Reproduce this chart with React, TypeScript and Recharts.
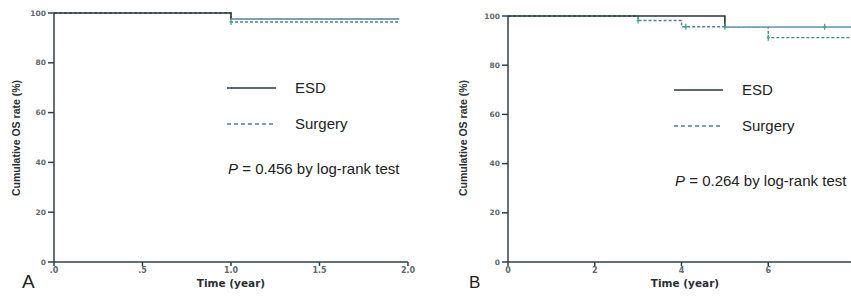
import React from 'react';
import { ComposedChart, Line, Scatter, XAxis, YAxis, Legend } from 'recharts';

// Panel A data
const timesA = [0, 1, 1.95];
const esdA = [100, 97.6, 97.6];
const esdTailA = [null, 97.6, 97.6];
const surgeryA = [100, 96.4, 96.4];
const censorA = [{ t: 1, v: 96.4 }];
const xTicksA = [0, 0.5, 1, 1.5, 2];

// Panel B data
const timesB = [0, 3, 4, 5, 6, 8];
const esdB = [100, 100, 100, 95.6, 95.6, 95.6];
const esdTailB = [null, null, null, 95.6, 95.6, 95.6];
const surgeryB = [100, 98.2, 95.6, 95.6, 91.2, 91.2];
const censorB = [
  { t: 3, v: 98.2 },
  { t: 4.1, v: 95.6 },
  { t: 5, v: 95.6 },
  { t: 6, v: 91.2 },
  { t: 7.3, v: 95.6 },
];
const xTicksB = [0, 2, 4, 6];

const yTicks = [0, 20, 40, 60, 80, 100];

const pTextA = '0.456';
const pTextB = '0.264';

const build = (times: number[], esd: any[], tail: any[], surg: any[]) =>
  times.map((t, i) => ({ t, esd: esd[i], esdTail: tail[i], surgery: surg[i] }));

const dataA = build(timesA, esdA, esdTailA, surgeryA);
const dataB = build(timesB, esdB, esdTailB, surgeryB);

const AXIS = '#2f4047';
const DARK = '#2a363b';
const TAIL = '#86b3d1';
const DASH = '#4f7f8e';
const CENS = '#3aa58a';
const SANS = '"Liberation Sans", Arial, sans-serif';

const CensorMark = (props: any) => {
  const { cx, cy } = props;
  if (cx == null || cy == null) return null;
  return <path d={`M${cx},${cy - 3}V${cy + 3}M${cx - 1.5},${cy}H${cx + 1.5}`} stroke={CENS} strokeWidth={1.3} fill="none" />;
};

const LegendBox = () => (
  <svg width={140} height={60} style={{ overflow: 'visible', display: 'block' }}>
    <line x1={0} y1={10} x2={49} y2={10} stroke={DARK} strokeWidth={1.6} />
    <text x={68} y={15} fontSize={15} fontFamily={SANS} fill="#222">ESD</text>
    <line x1={0} y1={46} x2={48} y2={46} stroke={DASH} strokeWidth={1.5} strokeDasharray="4 3" />
    <text x={68} y={51} fontSize={15} fontFamily={SANS} fill="#222">Surgery</text>
  </svg>
);

const tickStyle = { fontSize: 7.5, fill: '#62686b', fontFamily: '"DejaVu Sans", sans-serif', fontWeight: 'bold' as const };

type PanelProps = {
  data: any[];
  censor: any[];
  xTicks: number[];
  xDomain: [number, number];
  fmt: (v: number) => string;
  width: number;
  top: number;
  right: number;
  yAxisWidth: number;
  legendLeft: number;
  legendTop: number;
};

const Panel = (p: PanelProps) => (
  <ComposedChart
    width={p.width}
    height={297}
    data={p.data}
    margin={{ top: p.top, right: p.right, bottom: 0, left: 0 }}
  >
    <XAxis
      dataKey="t"
      type="number"
      domain={p.xDomain}
      ticks={p.xTicks}
      tickFormatter={p.fmt}
      allowDataOverflow
      stroke={AXIS}
      strokeWidth={1.5}
      tickSize={4}
      tick={{ ...tickStyle, fontSize: 8 }}
      height={35}
      tickMargin={1}
    />
    <YAxis
      type="number"
      domain={[0, 100]}
      ticks={yTicks}
      stroke={AXIS}
      strokeWidth={1.5}
      tickSize={6}
      tickMargin={2}
      tick={tickStyle}
      width={p.yAxisWidth}
    />
    <Line type="stepAfter" dataKey="surgery" stroke={DASH} strokeWidth={1.4} strokeDasharray="3 2" dot={false} isAnimationActive={false} />
    <Line type="stepAfter" dataKey="esd" stroke={DARK} strokeWidth={1.6} dot={false} isAnimationActive={false} />
    <Line type="stepAfter" dataKey="esdTail" stroke={TAIL} strokeWidth={1.6} dot={false} isAnimationActive={false} />
    <Scatter data={p.censor} dataKey="v" shape={<CensorMark />} isAnimationActive={false} />
    <Legend
      content={<LegendBox />}
      wrapperStyle={{ position: 'absolute', left: p.legendLeft, top: p.legendTop, width: 0, height: 0, bottom: 'auto', overflow: 'visible' }}
    />
  </ComposedChart>
);

const yLabelStyle: React.CSSProperties = {
  position: 'absolute',
  fontFamily: '"Liberation Sans Narrow", "Liberation Sans", sans-serif',
  fontWeight: 'bold',
  fontSize: 10.5,
  color: '#2a2f33',
  whiteSpace: 'nowrap',
  transform: 'translate(-50%, -50%) rotate(-90deg)',
};

const xLabelStyle: React.CSSProperties = {
  position: 'absolute',
  fontFamily: '"DejaVu Sans", sans-serif',
  fontWeight: 'bold',
  fontSize: 10.5,
  color: '#2a2f33',
  whiteSpace: 'nowrap',
  transform: 'translate(-50%, -50%)',
};

const pStyle: React.CSSProperties = {
  position: 'absolute',
  fontFamily: SANS,
  fontSize: 15,
  color: '#222',
  whiteSpace: 'nowrap',
  lineHeight: '15px',
};

export default function App() {
  return (
    <div style={{ position: 'absolute', left: 0, top: 0, width: 851, height: 297, overflow: 'hidden', background: '#fff' }}>
      <div style={{ position: 'absolute', left: 0, top: 0 }}>
        <Panel
          data={dataA}
          censor={censorA}
          xTicks={xTicksA}
          xDomain={[0, 2]}
          fmt={(v) => v.toFixed(1).replace(/^0/, '')}
          width={425}
          top={13}
          right={17}
          yAxisWidth={54}
          legendLeft={227}
          legendTop={78}
        />
      </div>
      <div style={{ position: 'absolute', left: 425, top: 0 }}>
        <Panel
          data={dataB}
          censor={censorB}
          xTicks={xTicksB}
          xDomain={[0, 8]}
          fmt={(v) => String(v)}
          width={441}
          top={16}
          right={11}
          yAxisWidth={83}
          legendLeft={249}
          legendTop={80}
        />
      </div>
      <div style={{ ...yLabelStyle, left: 16, top: 138 }}>Cumulative OS rate (%)</div>
      <div style={{ ...yLabelStyle, left: 463, top: 138 }}>Cumulative OS rate (%)</div>
      <div style={{ ...xLabelStyle, left: 231, top: 283 }}>Time (year)</div>
      <div style={{ ...xLabelStyle, left: 685, top: 283 }}>Time (year)</div>
      <div style={{ ...pStyle, left: 228, top: 161 }}><i>P</i> = {pTextA} by log-rank test</div>
      <div style={{ ...pStyle, left: 675, top: 173 }}><i>P</i> = {pTextB} by log-rank test</div>
      <div style={{ position: 'absolute', left: 22, top: 272, fontFamily: SANS, fontSize: 19, color: '#222', lineHeight: '20px' }}>A</div>
      <div style={{ position: 'absolute', left: 469, top: 274, fontFamily: SANS, fontSize: 17, color: '#222', lineHeight: '18px' }}>B</div>
    </div>
  );
}
